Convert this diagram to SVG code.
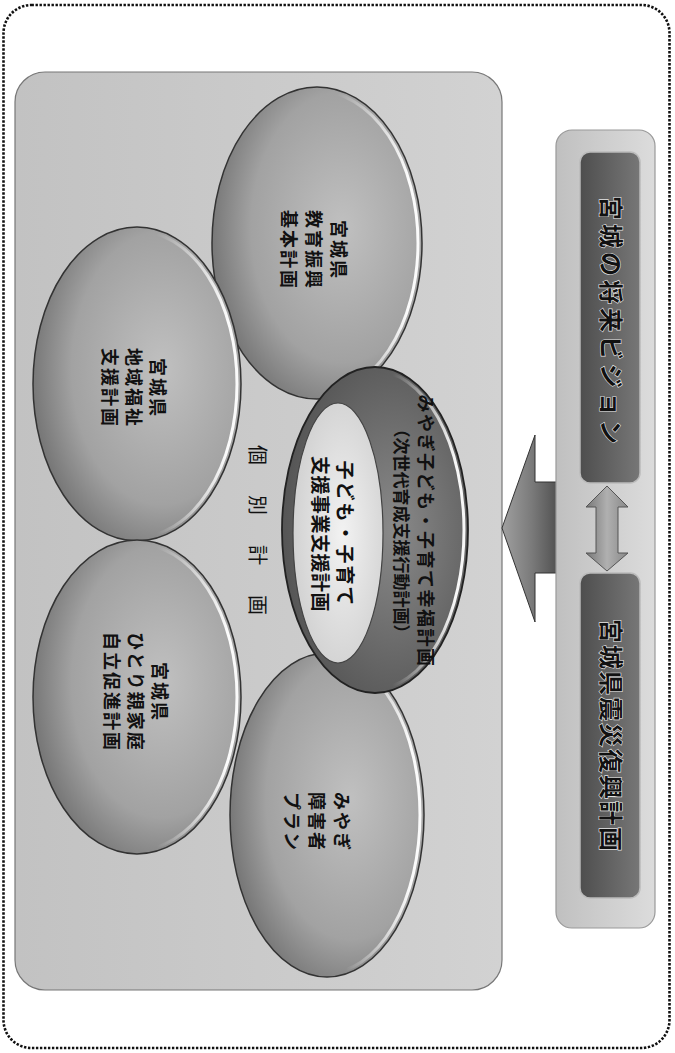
<svg xmlns="http://www.w3.org/2000/svg" width="675" height="1053" viewBox="0 0 675 1053">
<defs>
<style>
.t{font-family:"Noto Sans CJK JP","Noto Sans",sans-serif;font-weight:bold;fill:#111;text-anchor:middle;dominant-baseline:central}
.e{font-size:18px;letter-spacing:2px}
.box{font-size:24px;fill:#111;stroke:#e6e6e6;stroke-width:1.2px;paint-order:stroke}
.ell{fill:url(#gEll);stroke:#333;stroke-width:1.5}
.hl{fill:none;stroke:url(#gHl);stroke-width:3}
</style>
<radialGradient id="gEll" cx="0.62" cy="0.45" r="0.62">
<stop offset="0" stop-color="#c0c0c0"/>
<stop offset="0.7" stop-color="#a2a2a2"/>
<stop offset="1" stop-color="#787878"/>
</radialGradient>
<radialGradient id="gDark" cx="0.6" cy="0.5" r="0.6">
<stop offset="0" stop-color="#8a8a8a"/>
<stop offset="1" stop-color="#555"/>
</radialGradient>
<radialGradient id="gLight" cx="0.55" cy="0.5" r="0.6">
<stop offset="0" stop-color="#f2f2f2"/>
<stop offset="1" stop-color="#cfcfcf"/>
</radialGradient>
<linearGradient id="gHl" x1="0" y1="0" x2="1" y2="0">
<stop offset="0.6" stop-color="#fff" stop-opacity="0"/>
<stop offset="0.95" stop-color="#fff" stop-opacity="0.95"/>
</linearGradient>
<linearGradient id="gBg" x1="0" y1="0" x2="1" y2="0">
<stop offset="0" stop-color="#c2c2c2"/>
<stop offset="1" stop-color="#d2d2d2"/>
</linearGradient>
<linearGradient id="gPanel" x1="0" y1="0" x2="1" y2="0">
<stop offset="0" stop-color="#c0c0c0"/>
<stop offset="1" stop-color="#dcdcdc"/>
</linearGradient>
<linearGradient id="gBox" x1="0" y1="0" x2="1" y2="0">
<stop offset="0" stop-color="#4e4e4e"/>
<stop offset="1" stop-color="#777"/>
</linearGradient>
<linearGradient id="gArrow" x1="0" y1="0" x2="1" y2="0">
<stop offset="0" stop-color="#a0a0a0"/>
<stop offset="0.5" stop-color="#7a7a7a"/>
<stop offset="1" stop-color="#4a4a4a"/>
</linearGradient>
<linearGradient id="gDbl" x1="0" y1="0" x2="1" y2="0">
<stop offset="0" stop-color="#777"/>
<stop offset="0.5" stop-color="#b0b0b0"/>
<stop offset="1" stop-color="#888"/>
</linearGradient>
</defs>

<rect id="frame" x="3.5" y="5" width="666" height="1043" rx="28" fill="#fff" stroke="#111" stroke-width="2.6" stroke-dasharray="2.4 1.6"/>

<g id="individual-plans">
<rect x="15" y="72" width="487" height="918" rx="30" fill="url(#gBg)" stroke="#777" stroke-width="1.2"/>
<text class="t" style="font-weight:normal;font-size:20px;text-anchor:start" transform="translate(258,445) rotate(90)" x="0" y="0" textLength="170" lengthAdjust="spacing">個 別 計 画</text>
</g>

<g id="node-kyoiku">
<ellipse class="ell" cx="317" cy="243" rx="105" ry="156"/>
<ellipse class="hl" cx="317" cy="243" rx="101" ry="152"/>
<text class="t e" transform="translate(315,250) rotate(90)"><tspan x="0" y="-25">宮城県</tspan><tspan x="0" y="0">教育振興</tspan><tspan x="0" y="25">基本計画</tspan></text>
</g>

<g id="node-shogai">
<ellipse class="ell" cx="327" cy="815" rx="97" ry="162"/>
<ellipse class="hl" cx="327" cy="815" rx="93" ry="158"/>
<text class="t e" transform="translate(318,822) rotate(90)"><tspan x="0" y="-25">みやぎ</tspan><tspan x="0" y="0">障害者</tspan><tspan x="0" y="25">プラン</tspan></text>
</g>

<g id="node-chiiki">
<ellipse class="ell" cx="137" cy="384" rx="104" ry="157"/>
<ellipse class="hl" cx="137" cy="384" rx="100" ry="153"/>
<text class="t e" transform="translate(135,388) rotate(90)"><tspan x="0" y="-24">宮城県</tspan><tspan x="0" y="0">地域福祉</tspan><tspan x="0" y="24">支援計画</tspan></text>
</g>

<g id="node-hitorioya">
<ellipse class="ell" cx="137" cy="697" rx="104" ry="157"/>
<ellipse class="hl" cx="137" cy="697" rx="100" ry="153"/>
<text class="t e" transform="translate(137,692) rotate(90)"><tspan x="0" y="-24">宮城県</tspan><tspan x="0" y="0">ひとり親家庭</tspan><tspan x="0" y="24">自立促進計画</tspan></text>
</g>

<g id="node-kofuku">
<ellipse cx="375" cy="530" rx="93" ry="163" fill="url(#gDark)" stroke="#222" stroke-width="1.8"/>
<ellipse class="hl" cx="375" cy="530" rx="89" ry="159"/>
<text class="t" transform="translate(415,531) rotate(90)"><tspan x="0" y="-12" style="font-size:18px;letter-spacing:1.5px">みやぎ子ども・子育て幸福計画</tspan><tspan x="0" y="12" style="font-size:17px">（次世代育成支援行動計画）</tspan></text>
<ellipse cx="338" cy="533" rx="45" ry="130" fill="url(#gLight)" stroke="#444" stroke-width="1.2"/>
<text class="t" transform="translate(335,534) rotate(90)"><tspan x="0" y="-12" style="font-size:19px;letter-spacing:2px">子ども・子育て</tspan><tspan x="0" y="13" style="font-size:19px;letter-spacing:0.5px">支援事業支援計画</tspan></text>
</g>

<g id="connectors">
<path d="M502,528 L535,435 L535,482 L562,482 L562,573 L535,573 L535,622 Z" fill="url(#gArrow)" stroke="#333" stroke-width="1"/>
</g>

<g id="node-top">
<rect x="556" y="130" width="99" height="798" rx="16" fill="url(#gPanel)" stroke="#999" stroke-width="1.2"/>
</g>

<g id="node-vision">
<rect x="580" y="152" width="60" height="331" rx="10" fill="url(#gBox)" stroke="#bbb" stroke-width="1.5"/>
<text class="t box" transform="translate(612,320) rotate(90)" x="0" y="0" textLength="248" lengthAdjust="spacing">宮城の将来ビジョン</text>
</g>

<g id="node-fukko">
<rect x="580" y="573" width="60" height="325" rx="10" fill="url(#gBox)" stroke="#bbb" stroke-width="1.5"/>
<text class="t box" transform="translate(612,735) rotate(90)" x="0" y="0" textLength="232" lengthAdjust="spacing">宮城県震災復興計画</text>
</g>

<g id="connectors-2">
<path d="M607,486 L628,507 L618,507 L618,553 L628,553 L607,571 L586,553 L596,553 L596,507 L586,507 Z" fill="url(#gDbl)" stroke="#555" stroke-width="1"/>
</g>
</svg>
